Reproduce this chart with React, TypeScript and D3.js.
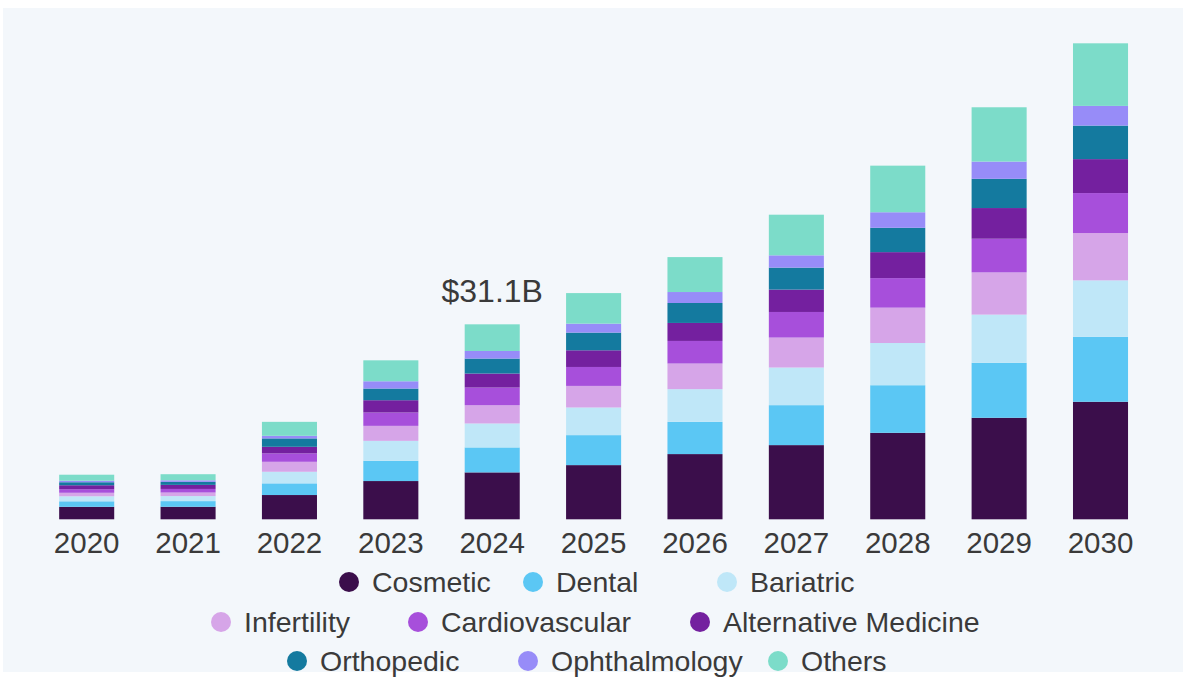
import React from "react";
import * as d3 from "d3";

const years = ["2020", "2021", "2022", "2023", "2024", "2025", "2026", "2027", "2028", "2029", "2030"];
const segments = ["Cosmetic", "Dental", "Bariatric", "Infertility", "Cardiovascular", "Alternative Medicine", "Orthopedic", "Ophthalmology", "Others"];
const colors = ["#3b0e4b", "#5bc7f4", "#bfe7f8", "#d6a5e8", "#a74fdb", "#74209f", "#147a9f", "#978cf8", "#7cdcc9"];

// values in USD billions
const cosmetic = [1.99, 2.0, 3.87, 6.1, 7.48, 8.64, 10.4, 11.83, 13.79, 16.19, 18.74];
const dental = [0.88, 0.9, 1.86, 3.23, 3.98, 4.78, 5.14, 6.37, 7.59, 8.76, 10.35];
const bariatric = [0.8, 0.8, 1.85, 3.18, 3.82, 4.41, 5.21, 6.0, 6.73, 7.69, 9.01];
const infertility = [0.56, 0.57, 1.59, 2.39, 2.91, 3.44, 4.09, 4.78, 5.64, 6.73, 7.55];
const cardiovascular = [0.56, 0.57, 1.34, 2.13, 2.82, 3.02, 3.6, 4.08, 4.71, 5.37, 6.37];
const alternativeMedicine = [0.64, 0.65, 1.05, 1.96, 2.23, 2.66, 2.87, 3.57, 4.14, 4.89, 5.41];
const orthopedic = [0.48, 0.48, 1.34, 1.86, 2.39, 2.82, 3.18, 3.5, 3.88, 4.66, 5.35];
const ophthalmology = [0.24, 0.25, 0.41, 1.16, 1.21, 1.43, 1.75, 1.96, 2.48, 2.75, 3.14];
const others = [0.96, 0.97, 2.23, 3.34, 4.25, 4.87, 5.57, 6.48, 7.43, 8.66, 9.98];

const seriesValues = [cosmetic, dental, bariatric, infertility, cardiovascular, alternativeMedicine, orthopedic, ophthalmology, others];

const annotationYear = "2024";
const annotationText = "$31.1B";

const legendRows = [
  ["Cosmetic", "Dental", "Bariatric"],
  ["Infertility", "Cardiovascular", "Alternative Medicine"],
  ["Orthopedic", "Ophthalmology", "Others"],
];

const W = 1183;
const H = 695;
const FONT = "'Liberation Sans', Arial, sans-serif";

// legend layout (dot centre x per item, row centre y)
const legendDotX = [
  [349, 533, 727],
  [221, 418, 700],
  [297, 528, 778],
];
const legendRowY = [582, 622, 661];

export default function App() {
  const table = years.map((y, i) => {
    const row: any = { year: y };
    segments.forEach((s, k) => (row[s] = seriesValues[k][i]));
    return row;
  });
  const stack = d3.stack<any>().keys(segments)(table);
  const totals = table.map((r) => d3.sum(segments, (s) => r[s]));

  const x = d3.scaleBand().domain(years).range([36, 1151.2]).paddingInner(0.457).paddingOuter(0.2285);
  const y = d3.scaleLinear().domain([0, d3.max(totals) as number]).range([519.3, 43.3]);
  const color = d3.scaleOrdinal<string, string>().domain(segments).range(colors);

  const annIdx = years.indexOf(annotationYear);
  const legendFont = 28.5;
  const dotR = 10;

  return (
    <svg width={W} height={H} style={{ position: "absolute", left: 0, top: 0 }} fontFamily={FONT}>
      <rect x={0} y={0} width={W} height={H} fill="#ffffff" />
      <rect x={3} y={8} width={W - 3} height={664} fill="#f3f7fb" />
      {stack.map((layer) => (
        <g key={layer.key} fill={color(layer.key)}>
          {layer.map((d, i) => (
            <rect
              key={i}
              x={x(years[i])}
              width={x.bandwidth()}
              y={y(d[1])}
              height={y(d[0]) - y(d[1])}
            />
          ))}
        </g>
      ))}
      {years.map((yr) => (
        <text key={yr} x={(x(yr) as number) + x.bandwidth() / 2} y={553} textAnchor="middle" fontSize={29.5} fill="#3a3a3a">
          {yr}
        </text>
      ))}
      <text
        x={(x(annotationYear) as number) + x.bandwidth() / 2}
        y={y(totals[annIdx]) - 22}
        textAnchor="middle"
        fontSize={32}
        fill="#3a3a3a"
      >
        {annotationText}
      </text>
      {legendRows.map((row, ri) => (
        <g key={ri}>
          {row.map((t, k) => (
            <g key={t}>
              <circle cx={legendDotX[ri][k]} cy={legendRowY[ri]} r={dotR} fill={color(t)} />
              <text x={legendDotX[ri][k] + 23} y={legendRowY[ri] + 10} fontSize={legendFont} fill="#3a3a3a">
                {t}
              </text>
            </g>
          ))}
        </g>
      ))}
    </svg>
  );
}
